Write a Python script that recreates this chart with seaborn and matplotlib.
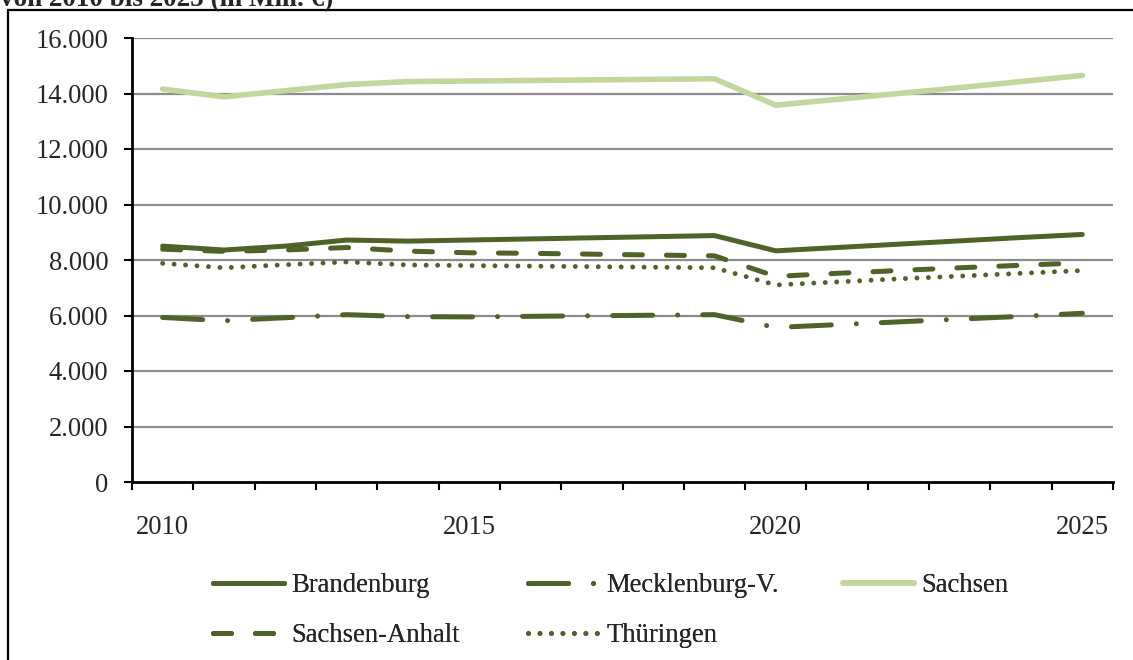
import matplotlib
matplotlib.use("Agg")
import matplotlib.pyplot as plt
import matplotlib.ticker as mticker
from matplotlib.lines import Line2D
import seaborn as sns
import pandas as pd

# Jahreswerte in Mill. €
years = list(range(2010, 2026))
brandenburg = [8500, 8360, 8500, 8720, 8680, 8720, 8760, 8800, 8840, 8880,
               8330, 8450, 8570, 8690, 8810, 8920]
mecklenburg = [5930, 5810, 5920, 6030, 5960, 5950, 5970, 5990, 6010, 6030,
               5570, 5670, 5770, 5870, 5970, 6080]
sachsen = [14160, 13880, 14100, 14320, 14430, 14450, 14470, 14490, 14510, 14530,
           13580, 13790, 14000, 14210, 14430, 14650]
sachsen_anhalt = [8390, 8310, 8360, 8450, 8320, 8260, 8240, 8210, 8180, 8150,
                  7410, 7520, 7620, 7720, 7810, 7900]
thueringen = [7880, 7720, 7830, 7930, 7820, 7800, 7780, 7760, 7740, 7720,
              7100, 7210, 7320, 7420, 7520, 7620]
series_names = ["Brandenburg", "Mecklenburg-V.", "Sachsen", "Sachsen-Anhalt", "Thüringen"]
title_text = "von 2010 bis 2025 (in Mill. €)"
y_ticks = list(range(0, 16001, 2000))
x_label_years = [2010, 2015, 2020, 2025]

sns.set_style("white")
plt.rcParams["font.family"] = ["Liberation Serif", "DejaVu Serif"]

DARK = "#4F6228"
LIGHT = "#C3D69B"
FS = 19.2

df = pd.DataFrame({
    "pos": list(range(len(years))),
    "Brandenburg": brandenburg,
    "Mecklenburg-V.": mecklenburg,
    "Sachsen": sachsen,
    "Sachsen-Anhalt": sachsen_anhalt,
    "Thüringen": thueringen,
})

styles = {
    "Brandenburg": dict(color=DARK, linewidth=3.6, linestyle="-",
                        solid_capstyle="round"),
    "Mecklenburg-V.": dict(color=DARK, linewidth=3.6,
                           linestyle=(0, (8, 5, 0.01, 5)),
                           dash_capstyle="round"),
    "Sachsen": dict(color=LIGHT, linewidth=4.0, linestyle="-",
                    solid_capstyle="round"),
    "Sachsen-Anhalt": dict(color=DARK, linewidth=3.6,
                           linestyle=(0, (3.6, 4.8)),
                           dash_capstyle="round"),
    "Thüringen": dict(color=DARK, linewidth=3.5,
                      linestyle=(0, (0.01, 2.35)),
                      dash_capstyle="round"),
}

W, H = 1133, 660
fig = plt.figure(figsize=(W / 100, H / 100), dpi=100)
ax = fig.add_axes([132 / W, 1 - 482 / H, 981 / W, 444 / H])

handles = {}
for name in series_names:
    sns.lineplot(data=df, x="pos", y=name, ax=ax, legend=False, **styles[name])
    handles[name] = Line2D([], [], **styles[name])

ax.set_xlim(-0.5, len(years) - 0.5)
ax.set_ylim(0, 16000)
ax.set_xlabel("")
ax.set_ylabel("")

# y axis
ax.set_yticks(y_ticks)
ax.yaxis.set_major_formatter(
    mticker.FuncFormatter(lambda v, p: f"{int(v):,}".replace(",", ".")))
for y in y_ticks[1:]:
    ax.axhline(y, color="#8C8C8C", linewidth=1.6, zorder=0.5)
ax.tick_params(axis="y", which="major", direction="out", length=6, width=1.5,
               color="black", pad=11, labelsize=FS, left=True)

# x axis: category boundaries as tick marks, labels at every fifth year
ax.set_xticks([i - 0.5 for i in range(len(years) + 1)], minor=True)
ax.set_xticks([years.index(y) for y in x_label_years])
ax.set_xticklabels([str(y) for y in x_label_years])
ax.tick_params(axis="x", which="minor", direction="out", length=6, width=1.5,
               color="black", bottom=True)
ax.tick_params(axis="x", which="major", length=0, pad=24, labelsize=FS)

for side in ["top", "right"]:
    ax.spines[side].set_visible(False)
for side in ["left", "bottom"]:
    ax.spines[side].set_color("black")
    ax.spines[side].set_linewidth(2.0)
ax.grid(False)

# legend in three columns
cols = [["Brandenburg", "Sachsen-Anhalt"], ["Mecklenburg-V.", "Thüringen"], ["Sachsen"]]
col_x = [213, 528, 843]
for names, x0 in zip(cols, col_x):
    leg = fig.legend([handles[n] for n in names], names, loc="upper left",
                     bbox_to_anchor=(x0 / W, 1 - 573 / H), frameon=False,
                     fontsize=FS, handlelength=2.65, handletextpad=0.3,
                     labelspacing=0.95, borderpad=0, borderaxespad=0)
    fig.add_artist(leg)

# outer frame (left and top edges)
fig.add_artist(Line2D([7.5 / W, 7.5 / W], [0, 1 - 10 / H], transform=fig.transFigure,
                      color="black", linewidth=1.6))
fig.add_artist(Line2D([7.5 / W, 1], [1 - 10 / H, 1 - 10 / H], transform=fig.transFigure,
                      color="black", linewidth=1.6))

# title, partly outside the canvas
fig.text(0.0, 1 - 6 / H, title_text, ha="left", va="baseline",
         fontsize=19.5, fontweight="bold")

fig.savefig("out.png", dpi=100)
